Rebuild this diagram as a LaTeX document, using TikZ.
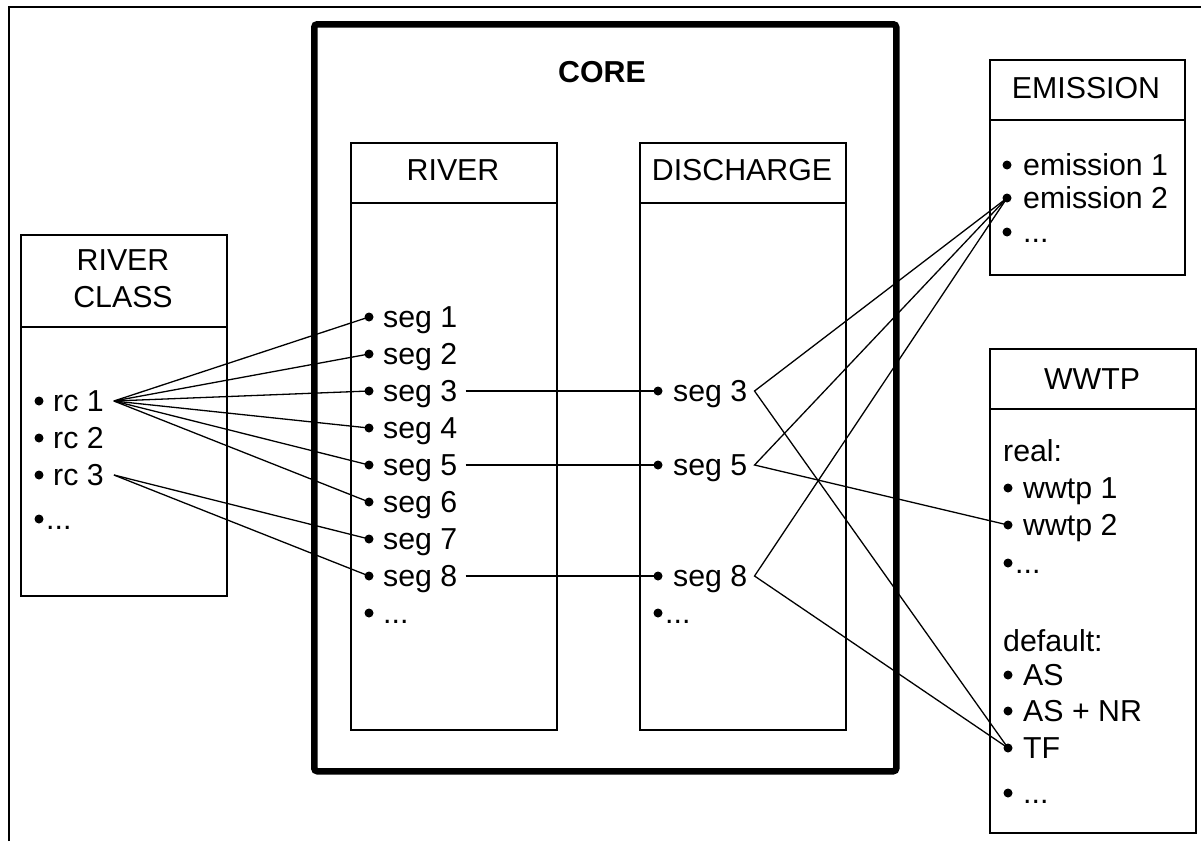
\documentclass[tikz,border=0pt]{standalone}
\usepackage{fontspec}
\setmainfont{Liberation Sans}
\begin{document}
\begin{tikzpicture}[x=1pt, y=-1pt,
  box/.style={draw, line width=1.6pt, inner sep=0pt, anchor=north west},
  link/.style={line width=1.3pt},
  dot/.style={circle, fill, inner sep=0pt, minimum size=9pt},
  item/.style={anchor=west, inner sep=0pt, text height=21.5pt, text depth=0pt,
    font=\fontsize{30.3}{37}\selectfont},
  head/.style={inner sep=0pt, font=\fontsize{30.3}{37}\selectfont},
]
\useasboundingbox (0,0) rectangle (1201,841);

% outer frame
\draw[line width=2.5pt] (9,841) -- (9,7) -- (1201,7);

% core frame
\node[draw, line width=6.5pt, rounded corners=3pt, inner sep=0pt, anchor=north west,
  minimum width=582pt, minimum height=747pt] (core) at (311,21) {};
\node[head, font=\fontsize{30.3}{37}\selectfont\bfseries] (coretitle) at (602,72) {CORE};

% tables
\node[box, minimum width=206pt, minimum height=361pt] (rcbox) at (20,234) {};
\draw[line width=1.6pt] (rcbox.north west) ++(0,93) -- ++(206,0);
\node[head, align=center] (rchead) at (123,279) {RIVER\\CLASS};

\node[box, minimum width=206pt, minimum height=587pt] (riverbox) at (350,142) {};
\draw[line width=1.6pt] (riverbox.north west) ++(0,61) -- ++(206,0);
\node[head] (riverhead) at (453,170) {RIVER};

\node[box, minimum width=206pt, minimum height=587pt] (dischbox) at (639,142) {};
\draw[line width=1.6pt] (dischbox.north west) ++(0,61) -- ++(206,0);
\node[head] (dischhead) at (742,170) {DISCHARGE};

\node[box, minimum width=195pt, minimum height=215pt] (embox) at (989,59) {};
\draw[line width=1.6pt] (embox.north west) ++(0,61) -- ++(195,0);
\node[head] (emhead) at (1086,88) {EMISSION};

\node[box, minimum width=206pt, minimum height=484pt] (wwbox) at (989,348) {};
\draw[line width=1.6pt] (wwbox.north west) ++(0,61) -- ++(206,0);
\node[head] (wwhead) at (1092,379) {WWTP};

% river class entries
\node[dot] (rcb1) at (39,401) {}; \node[item] (rc1) at (53,401) {rc 1};
\node[dot] (rcb2) at (39,438) {}; \node[item] (rc2) at (53,438) {rc 2};
\node[dot] (rcb3) at (39,475) {}; \node[item] (rc3) at (53,475) {rc 3};
\node[dot] (rcb4) at (39,519) {}; \node[item] (rc4) at (46,519) {...};

% river segments
\foreach \k/\y in {1/317,2/354,3/391,4/428,5/465,6/502,7/539,8/576}{
  \node[dot] (sb\k) at (369,\y) {};
  \node[item] (s\k) at (383,\y) {seg \k};
}
\node[dot] (sb9) at (369,613) {}; \node[item] (s9) at (383,613) {...};

% discharge segments
\foreach \k/\y in {3/391,5/465,8/576}{
  \node[dot] (db\k) at (658,\y) {};
  \node[item] (d\k) at (673,\y) {seg \k};
}
\node[dot] (db9) at (658,613) {}; \node[item] (d9) at (665,613) {...};

% emissions
\node[dot] (eb1) at (1007,165) {}; \node[item] (e1) at (1023,165) {emission 1};
\node[dot] (eb2) at (1007,198) {}; \node[item] (e2) at (1023,198) {emission 2};
\node[dot] (eb3) at (1007,232) {}; \node[item] (e3) at (1023,232) {...};

% treatment plants
\node[item] (real) at (1003,451) {real:};
\node[dot] (wb1) at (1008,488) {}; \node[item] (w1) at (1023,488) {wwtp 1};
\node[dot] (wb2) at (1008,525) {}; \node[item] (w2) at (1023,525) {wwtp 2};
\node[dot] (wb3) at (1008,563) {}; \node[item] (w3) at (1015,563) {...};
\node[item] (default) at (1003,641) {default:};
\node[dot] (asb) at (1008,675) {}; \node[item] (as) at (1023,675) {AS};
\node[dot] (asnrb) at (1008,711) {}; \node[item] (asnr) at (1023,711) {AS + NR};
\node[dot] (tfb) at (1008,748) {}; \node[item] (tf) at (1023,748) {TF};
\node[dot] (wb9) at (1008,793) {}; \node[item] (w9) at (1023,793) {...};

% river class -> segments
\foreach \k in {1,...,6}{
  \draw[link] ([xshift=10pt]rc1.east) -- (sb\k.center);
}
\foreach \k in {7,8}{
  \draw[link] ([xshift=10pt]rc3.east) -- (sb\k.center);
}

% river -> discharge
\foreach \k in {3,5,8}{
  \draw[link] ([xshift=8pt]s\k.east) -- (db\k.center);
}

% discharge -> emission / wwtp
\draw[link] (eb2.center) -- ([xshift=7pt]d3.east) -- (tfb.center);
\draw[link] (eb2.center) -- ([xshift=7pt]d5.east) -- (wb2.center);
\draw[link] (eb2.center) -- ([xshift=7pt]d8.east) -- (tfb.center);
\end{tikzpicture}
\end{document}
